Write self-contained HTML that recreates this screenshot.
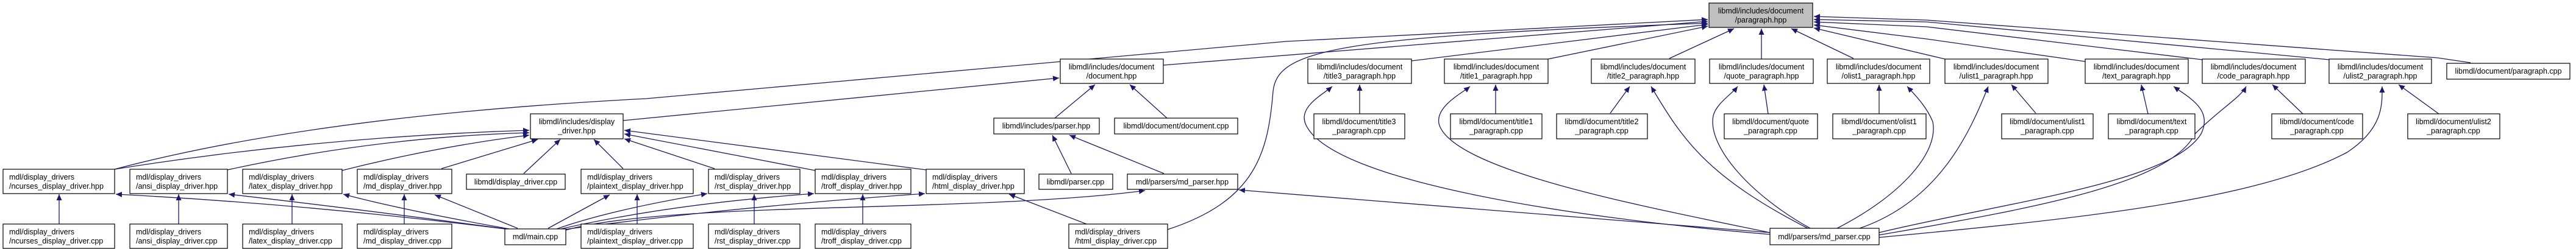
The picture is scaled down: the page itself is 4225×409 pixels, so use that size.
<!DOCTYPE html>
<html><head><meta charset="utf-8"><style>
html,body{margin:0;padding:0;background:#fff}
svg{display:block}
text{font-family:"Liberation Sans",sans-serif;font-size:12.5px;fill:#000}
</style></head><body>
<svg width="4225" height="409" viewBox="0 0 4225 409" xmlns="http://www.w3.org/2000/svg">
<defs><marker id="a" markerUnits="userSpaceOnUse" markerWidth="11" markerHeight="9" refX="10" refY="4.5" orient="auto"><path d="M0,0 L10,4.5 L0,9 z" fill="#191970"/></marker></defs>
<g fill="none" stroke="#191970" stroke-width="1.3" marker-end="url(#a)">
<path d="M188,278 Q520,190 1060,162 L2110,68 L2801,32"/>
<path d="M1022,198 L1737,128"/>
<path d="M1908,107 L2801,35"/>
<path d="M1915,377 C2060,330 2080,250 2088,150 C2095,80 2200,60 2801,38"/>
<path d="M2315,100 L2801,40"/>
<path d="M2539,97 L2801,43"/>
<path d="M2738,96 L2844,47"/>
<path d="M2889,97 L2889,47"/>
<path d="M3040,96 L2938,47"/>
<path d="M3190,97 L2975,46"/>
<path d="M3420,101 L3160,64 L2975,41"/>
<path d="M3612,98 L3160,44 L2975,36"/>
<path d="M3820,98 L3160,36 L2975,32"/>
<path d="M4052,103 L3998,95 L3160,33 L2975,27"/>
<path d="M1730,194 L1796,139"/>
<path d="M1914,194 L1853,139"/>
<path d="M1757,285 L1726,222"/>
<path d="M1909,285 L1754,222"/>
<path d="M188,278 Q520,225 868,214"/>
<path d="M373,279 Q620,225 868,218"/>
<path d="M561,280 Q720,240 868,222"/>
<path d="M724,277 L882,229"/>
<path d="M859,285 L919,229"/>
<path d="M1022,277 L974,229"/>
<path d="M1172,277 L1024,228"/>
<path d="M1337,280 L1024,220"/>
<path d="M1519,279 L1024,214"/>
<path d="M97,368 L97,319"/>
<path d="M293,368 L293,319"/>
<path d="M479,368 L479,319"/>
<path d="M663,368 L663,319"/>
<path d="M1045,368 L1045,319"/>
<path d="M1237,368 L1237,319"/>
<path d="M1415,368 L1415,319"/>
<path d="M1782,368 L1655,319"/>
<path d="M828,376 Q500,335 190,319"/>
<path d="M830,376 Q560,340 375,319"/>
<path d="M835,376 Q660,345 563,319"/>
<path d="M849,375 L713,320"/>
<path d="M899,375 L1000,320"/>
<path d="M913,376 Q1000,345 1160,318"/>
<path d="M920,376 Q1100,335 1335,318"/>
<path d="M925,377 Q1200,340 1517,318"/>
<path d="M928,378 C1100,330 1600,350 1878,313"/>
<path d="M2903,382 L2032,312"/>
<path d="M2903,385 C2600,360 2180,300 2141,203 C2130,175 2170,155 2185,142"/>
<path d="M2903,382 C2700,340 2380,280 2360,203 C2355,175 2395,155 2411,142"/>
<path d="M2965,375 C2800,290 2760,230 2708,142"/>
<path d="M2969,375 C2870,320 2800,240 2810,190 C2815,170 2840,155 2850,142"/>
<path d="M3013,375 C3120,320 3180,250 3170,200 C3160,175 3140,155 3128,142"/>
<path d="M3050,375 C3180,330 3230,220 3261,142"/>
<path d="M3082,382 C3300,330 3560,300 3610,220 C3630,180 3590,160 3565,142"/>
<path d="M3082,386 C3350,340 3560,300 3600,220 C3640,180 3675,160 3684,142"/>
<path d="M3082,390 C3400,360 3700,330 3850,250 C3910,210 3907,170 3907,142"/>
<path d="M2230,187 L2230,139"/>
<path d="M2453,187 L2453,139"/>
<path d="M2641,186 L2673,142"/>
<path d="M2900,187 L2893,139"/>
<path d="M3082,187 L3082,139"/>
<path d="M3339,186 L3299,139"/>
<path d="M3523,187 L3512,139"/>
<path d="M3777,187 L3727,139"/>
<path d="M4000,187 L3934,139"/>
</g>
<g stroke="#000" stroke-width="1.2" fill="#fff">
<rect x="2803" y="5" width="170" height="40" fill="#bfbfbf"/>
<rect x="1739" y="97" width="169" height="40"/>
<rect x="870" y="187" width="152" height="41"/>
<rect x="1630" y="194" width="173" height="26"/>
<rect x="1828" y="194" width="202" height="26"/>
<rect x="5" y="278" width="183" height="40"/>
<rect x="213" y="278" width="160" height="40"/>
<rect x="398" y="278" width="163" height="40"/>
<rect x="586" y="278" width="155" height="40"/>
<rect x="953" y="278" width="184" height="40"/>
<rect x="1162" y="278" width="150" height="40"/>
<rect x="1337" y="278" width="157" height="40"/>
<rect x="1519" y="278" width="161" height="40"/>
<rect x="765" y="286" width="162" height="25"/>
<rect x="1704" y="286" width="121" height="25"/>
<rect x="1849" y="286" width="181" height="25"/>
<rect x="5" y="368" width="183" height="40"/>
<rect x="213" y="368" width="160" height="40"/>
<rect x="398" y="368" width="163" height="40"/>
<rect x="586" y="368" width="155" height="40"/>
<rect x="953" y="368" width="184" height="40"/>
<rect x="1162" y="368" width="150" height="40"/>
<rect x="1337" y="368" width="157" height="40"/>
<rect x="1753" y="368" width="162" height="40"/>
<rect x="828" y="376" width="100" height="26"/>
<rect x="2903" y="375" width="179" height="27"/>
<rect x="2145" y="97" width="170" height="40"/>
<rect x="2369" y="97" width="170" height="40"/>
<rect x="2610" y="97" width="170" height="40"/>
<rect x="2804" y="97" width="170" height="40"/>
<rect x="2997" y="97" width="168" height="40"/>
<rect x="3190" y="97" width="169" height="40"/>
<rect x="3420" y="97" width="169" height="40"/>
<rect x="3612" y="97" width="169" height="40"/>
<rect x="3820" y="97" width="168" height="40"/>
<rect x="4013" y="104" width="202" height="26"/>
<rect x="2155" y="187" width="149" height="41"/>
<rect x="2379" y="187" width="150" height="41"/>
<rect x="2553" y="187" width="149" height="41"/>
<rect x="2828" y="187" width="153" height="41"/>
<rect x="3006" y="187" width="153" height="41"/>
<rect x="3283" y="187" width="150" height="41"/>
<rect x="3458" y="187" width="142" height="41"/>
<rect x="3726" y="187" width="149" height="41"/>
<rect x="3949" y="187" width="151" height="41"/>
</g>
<g text-anchor="middle">
<text x="2888" y="22">libmdl/includes/document</text><text x="2888" y="37">/paragraph.hpp</text>
<text x="1823" y="114">libmdl/includes/document</text><text x="1823" y="129">/document.hpp</text>
<text x="946" y="204">libmdl/includes/display</text><text x="946" y="219">_driver.hpp</text>
<text x="1716" y="211">libmdl/includes/parser.hpp</text>
<text x="1929" y="211">libmdl/document/document.cpp</text>
<text x="846" y="303">libmdl/display_driver.cpp</text>
<text x="1764" y="303">libmdl/parser.cpp</text>
<text x="1939" y="303">mdl/parsers/md_parser.hpp</text>
<text x="878" y="393">mdl/main.cpp</text>
<text x="2992" y="393">mdl/parsers/md_parser.cpp</text>
<text x="2230" y="114">libmdl/includes/document</text><text x="2230" y="129">/title3_paragraph.hpp</text>
<text x="2454" y="114">libmdl/includes/document</text><text x="2454" y="129">/title1_paragraph.hpp</text>
<text x="2695" y="114">libmdl/includes/document</text><text x="2695" y="129">/title2_paragraph.hpp</text>
<text x="2889" y="114">libmdl/includes/document</text><text x="2889" y="129">/quote_paragraph.hpp</text>
<text x="3081" y="114">libmdl/includes/document</text><text x="3081" y="129">/olist1_paragraph.hpp</text>
<text x="3274" y="114">libmdl/includes/document</text><text x="3274" y="129">/ulist1_paragraph.hpp</text>
<text x="3504" y="114">libmdl/includes/document</text><text x="3504" y="129">/text_paragraph.hpp</text>
<text x="3696" y="114">libmdl/includes/document</text><text x="3696" y="129">/code_paragraph.hpp</text>
<text x="3904" y="114">libmdl/includes/document</text><text x="3904" y="129">/ulist2_paragraph.hpp</text>
<text x="4114" y="121">libmdl/document/paragraph.cpp</text>
<text x="2229" y="204">libmdl/document/title3</text><text x="2229" y="219">_paragraph.cpp</text>
<text x="2454" y="204">libmdl/document/title1</text><text x="2454" y="219">_paragraph.cpp</text>
<text x="2627" y="204">libmdl/document/title2</text><text x="2627" y="219">_paragraph.cpp</text>
<text x="2904" y="204">libmdl/document/quote</text><text x="2904" y="219">_paragraph.cpp</text>
<text x="3082" y="204">libmdl/document/olist1</text><text x="3082" y="219">_paragraph.cpp</text>
<text x="3358" y="204">libmdl/document/ulist1</text><text x="3358" y="219">_paragraph.cpp</text>
<text x="3529" y="204">libmdl/document/text</text><text x="3529" y="219">_paragraph.cpp</text>
<text x="3800" y="204">libmdl/document/code</text><text x="3800" y="219">_paragraph.cpp</text>
<text x="4024" y="204">libmdl/document/ulist2</text><text x="4024" y="219">_paragraph.cpp</text>
</g>
<g>
<text x="15" y="295">mdl/display_drivers</text><text x="15" y="310">/ncurses_display_driver.hpp</text>
<text x="223" y="295">mdl/display_drivers</text><text x="223" y="310">/ansi_display_driver.hpp</text>
<text x="408" y="295">mdl/display_drivers</text><text x="408" y="310">/latex_display_driver.hpp</text>
<text x="596" y="295">mdl/display_drivers</text><text x="596" y="310">/md_display_driver.hpp</text>
<text x="963" y="295">mdl/display_drivers</text><text x="963" y="310">/plaintext_display_driver.hpp</text>
<text x="1172" y="295">mdl/display_drivers</text><text x="1172" y="310">/rst_display_driver.hpp</text>
<text x="1347" y="295">mdl/display_drivers</text><text x="1347" y="310">/troff_display_driver.hpp</text>
<text x="1529" y="295">mdl/display_drivers</text><text x="1529" y="310">/html_display_driver.hpp</text>
<text x="15" y="385">mdl/display_drivers</text><text x="15" y="400">/ncurses_display_driver.cpp</text>
<text x="223" y="385">mdl/display_drivers</text><text x="223" y="400">/ansi_display_driver.cpp</text>
<text x="408" y="385">mdl/display_drivers</text><text x="408" y="400">/latex_display_driver.cpp</text>
<text x="596" y="385">mdl/display_drivers</text><text x="596" y="400">/md_display_driver.cpp</text>
<text x="963" y="385">mdl/display_drivers</text><text x="963" y="400">/plaintext_display_driver.cpp</text>
<text x="1172" y="385">mdl/display_drivers</text><text x="1172" y="400">/rst_display_driver.cpp</text>
<text x="1347" y="385">mdl/display_drivers</text><text x="1347" y="400">/troff_display_driver.cpp</text>
<text x="1763" y="385">mdl/display_drivers</text><text x="1763" y="400">/html_display_driver.cpp</text>
</g>
</svg>
</body></html>
